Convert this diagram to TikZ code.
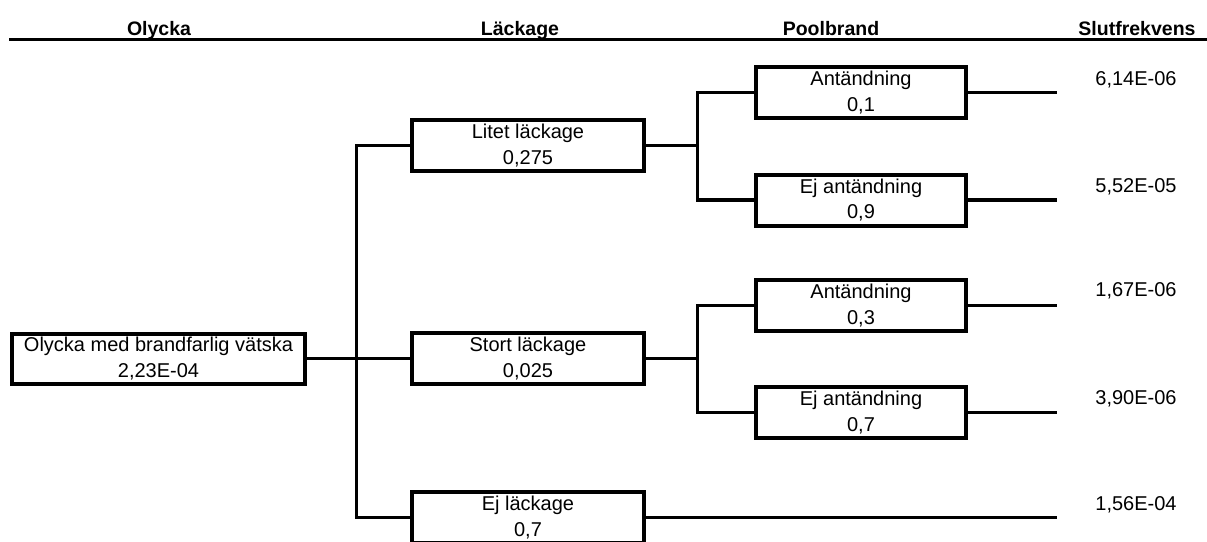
\documentclass[tikz,border=0pt]{standalone}
\usepackage{fontspec}
\setmainfont{Liberation Sans}
\begin{document}
\begin{tikzpicture}[x=1pt,y=-1pt,
  every node/.style={inner sep=0pt, outer sep=0pt},
  txt/.style={font=\fontsize{20}{25.5}\selectfont, align=center, text=black},
  head/.style={font=\fontsize{19.5}{23}\selectfont\bfseries, text=black, anchor=base},
  evbox/.style={txt, draw=black, line width=4pt, rectangle, minimum height=51pt},
  lvone/.style={evbox, minimum width=232pt},
  lvtwo/.style={evbox, minimum width=210pt},
  conn/.style={draw=black, line width=3.8pt, line join=miter},
  hline/.style={draw=black, line width=2.5pt}
]
\useasboundingbox (0,0) rectangle (1207,541);
\clip (0,0) rectangle (1207,541);

% headers
\node[head] (h1) at (159,35) {Olycka};
\node[head] (h2) at (520,35) {Läckage};
\node[head] (h3) at (831,35) {Poolbrand};
\node[head] (h4) at (1137,35) {Slutfrekvens};
\coordinate (hl) at (9,39.5);
\coordinate (hr) at (1207,39.5);
\draw[hline] (hl) -- (hr);

% root
\node[evbox, minimum width=293pt, minimum height=50pt] (root) at (158.5,358.5) {Olycka med brandfarlig vätska\\2,23E-04};

% level one
\node[lvone] (lit) at (528,145.5) {Litet läckage\\0,275};
\node[lvone] (sto) at (528,358.5) {Stort läckage\\0,025};
\node[lvone] (ejl) at (528,517.5) {Ej läckage\\0,7};

% level two
\node[lvtwo] (a1) at (861,92.5) {Antändning\\0,1};
\node[lvtwo] (e1) at (861,200) {Ej antändning\\0,9};
\node[lvtwo] (a2) at (861,305.5) {Antändning\\0,3};
\node[lvtwo] (e2) at (861,412.5) {Ej antändning\\0,7};

% junctions
\coordinate (j1) at (356.5,358.5);
\coordinate (j2) at (697.5,145.5);
\coordinate (j3) at (697.5,358.5);

\draw[conn] (root.east) -- (j1);
\draw[conn] (j1) |- (lit.west);
\draw[conn] (j1) |- (ejl.west);
\draw[conn] (j1) -- (sto.west);

\draw[conn] (lit.east) -- (j2);
\draw[conn] (j2) |- (a1.west);
\draw[conn] (j2) |- (e1.west);

\draw[conn] (sto.east) -- (j3);
\draw[conn] (j3) |- (a2.west);
\draw[conn] (j3) |- (e2.west);

% outcome ends
\coordinate (o1) at (1057,92.5);
\coordinate (o2) at (1057,200);
\coordinate (o3) at (1057,305.5);
\coordinate (o4) at (1057,412.5);
\coordinate (o5) at (1057,517.5);
\draw[conn] (a1.east) -- (o1);
\draw[conn] (e1.east) -- (o2);
\draw[conn] (a2.east) -- (o3);
\draw[conn] (e2.east) -- (o4);
\draw[conn] (ejl.east) -- (o5);

% frequencies
\node[txt] (v1) at (1136,79.5) {6,14E-06};
\node[txt] (v2) at (1136,187) {5,52E-05};
\node[txt] (v3) at (1136,291) {1,67E-06};
\node[txt] (v4) at (1136,398.5) {3,90E-06};
\node[txt] (v5) at (1136,504.5) {1,56E-04};
\end{tikzpicture}
\end{document}
